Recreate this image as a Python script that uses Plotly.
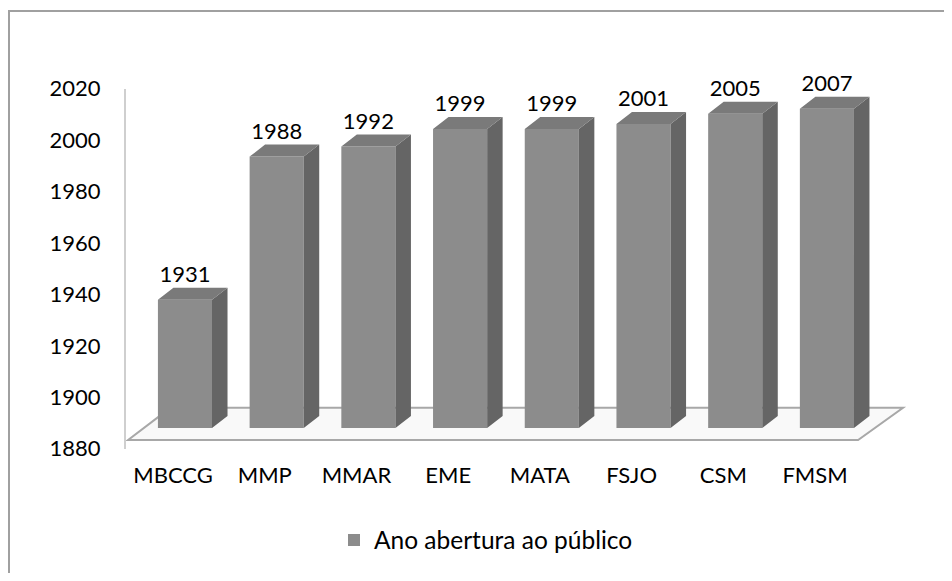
import plotly.graph_objects as go

# ---- data ----
categories = ["MBCCG", "MMP", "MMAR", "EME", "MATA", "FSJO", "CSM", "FMSM"]
values = [1931, 1988, 1992, 1999, 1999, 2001, 2005, 2007]
series_name = "Ano abertura ao público"
y_ticks = [1880, 1900, 1920, 1940, 1960, 1980, 2000, 2020]

# ---- style ----
OFF = 8                      # page body margin of the html page
W, H = 952 - 2 * OFF, 581 - 2 * OFF
FONT = "Lato"
FS = 22


def fx(px):  # reference pixel x -> paper fraction
    return (px - OFF) / W


def fy(py):  # reference pixel y -> paper fraction
    return 1 - (py - OFF) / H


base = 1880
half_w = 0.295          # half bar width (category units)
dx = 0.169              # 3D depth offset along x (category units)
dy = 4.78               # 3D depth offset along y (value units)
c_front = "#8c8c8c"
c_side = "#656565"
c_top = "#7a7a7a"

pos = list(range(len(categories)))

# side and top faces computed from the data
side_x, side_y, top_x, top_y = [], [], [], []
for p, v in zip(pos, values):
    side_x += [p + half_w, p + half_w + dx, p + half_w + dx, p + half_w, p + half_w, None]
    side_y += [base, base + dy, v + dy, v, base, None]
    top_x += [p - half_w, p - half_w + dx, p + half_w + dx, p + half_w, p - half_w, None]
    top_y += [v, v + dy, v + dy, v, v, None]

fig = go.Figure()
fig.add_trace(go.Bar(
    x=pos, y=[v - base for v in values], base=base, width=2 * half_w,
    marker=dict(color=c_front, line=dict(width=0)),
    name=series_name, showlegend=True, hoverinfo="skip",
    xaxis="x", yaxis="y"))
fig.add_trace(go.Scatter(
    x=side_x, y=side_y, fill="toself", fillcolor=c_side, mode="lines",
    line=dict(width=0, color=c_side), showlegend=False, hoverinfo="skip",
    xaxis="x", yaxis="y"))
fig.add_trace(go.Scatter(
    x=top_x, y=top_y, fill="toself", fillcolor=c_top, mode="lines",
    line=dict(width=0, color=c_top), showlegend=False, hoverinfo="skip",
    xaxis="x", yaxis="y"))
fig.add_trace(go.Scatter(
    x=pos, y=[v + dy for v in values], mode="text",
    text=[str(v) for v in values], textposition="top center",
    textfont=dict(family=FONT, size=FS, color="#000000"),
    showlegend=False, hoverinfo="skip", cliponaxis=False,
    xaxis="x", yaxis="y"))
# invisible trace to carry the labelled value axis
fig.add_trace(go.Scatter(
    x=pos, y=values, mode="markers", marker=dict(opacity=0),
    showlegend=False, hoverinfo="skip", xaxis="x", yaxis="y2"))

n = len(categories)
fl_front = base - 4.8
fl_back = base + 8.0
floor_path = (f"M {-0.62},{fl_front} L {n - 1 + 0.34},{fl_front} "
              f"L {n - 1 + 0.83},{fl_back} L {-0.16},{fl_back} Z")
shapes = [
    dict(type="path", xref="x", yref="y", path=floor_path, layer="below",
         fillcolor="#f9f9f9", line=dict(color="#a8a8a8", width=2)),
    dict(type="rect", xref="paper", yref="paper",
         x0=fx(9), x1=1.05, y0=-0.05, y1=fy(11),
         line=dict(color="#a0a0a0", width=2), layer="below"),
]

fig.update_layout(
    width=W, height=H,
    margin=dict(l=0, r=0, t=0, b=0),
    paper_bgcolor="white", plot_bgcolor="rgba(0,0,0,0)",
    font=dict(family=FONT, size=FS, color="#000000"),
    showlegend=True,
    legend=dict(orientation="h", x=fx(486), xanchor="center", y=fy(540),
                yanchor="middle", font=dict(family=FONT, size=24.5),
                bgcolor="rgba(0,0,0,0)", itemwidth=30),
    xaxis=dict(domain=[fx(123.8), fx(909)], range=[-0.667, 7.895],
               tickvals=[p - 0.13 for p in pos], ticktext=categories,
               ticks="outside", ticklen=2, tickcolor="rgba(0,0,0,0)",
               showgrid=False, zeroline=False, showline=False,
               anchor="y", automargin=False,
               tickfont=dict(family=FONT, size=FS)),
    yaxis=dict(domain=[fy(453.1), fy(63.6)], range=[1870, 2025],
               visible=False, showgrid=False, zeroline=False),
    yaxis2=dict(domain=[fy(448.7), fy(88.7)], range=[1880, 2020],
                anchor="free", position=fx(125), tickvals=y_ticks,
                ticks="outside", ticklen=19, tickcolor="rgba(0,0,0,0)",
                showline=True, linecolor="#cfcfcf", linewidth=2,
                showgrid=False, zeroline=False, automargin=False,
                tickfont=dict(family=FONT, size=FS)),
    shapes=shapes,
)

fig.write_html("out.html")
